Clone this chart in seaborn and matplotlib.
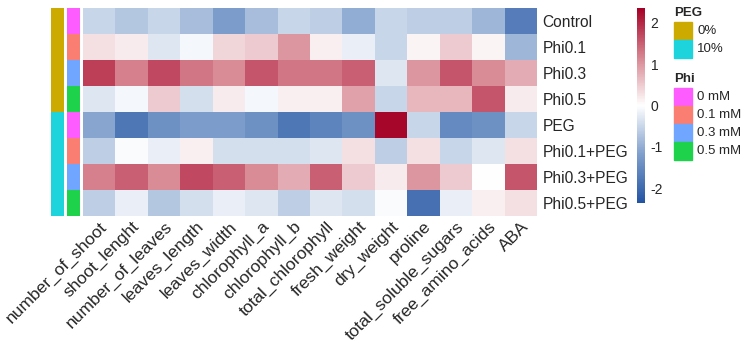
import numpy as np
import pandas as pd
import seaborn as sns
import matplotlib
matplotlib.use("Agg")
import matplotlib.pyplot as plt
from matplotlib.colors import LinearSegmentedColormap, ListedColormap
from matplotlib.patches import Rectangle

sns.set_style("white")
plt.rcParams['font.family'] = ['Liberation Sans', 'DejaVu Sans']
plt.rcParams['axes.unicode_minus'] = False

rows = ["Control", "Phi0.1", "Phi0.3", "Phi0.5", "PEG", "Phi0.1+PEG", "Phi0.3+PEG", "Phi0.5+PEG"]
cols = ["number_of_shoot", "shoot_lenght", "number_of_leaves", "leaves_length", "leaves_width",
        "chlorophyll_a", "chlorophyll_b", "total_chlorophyll", "fresh_weight", "dry_weight",
        "proline", "total_soluble_sugars", "free_amino_acids", "ABA"]

control     = [-0.5, -0.7, -0.5, -0.8, -1.2, -0.8, -0.5, -0.6, -1.0, -0.5, -0.6, -0.6, -0.9, -1.7]
phi01       = [0.3, 0.2, -0.3, -0.1, 0.4, 0.5, 1.0, 0.15, -0.2, -0.5, 0.1, 0.5, 0.1, -0.9]
phi03       = [1.8, 1.2, 1.7, 1.3, 1.1, 1.6, 1.3, 1.3, 1.5, -0.3, 1.0, 1.6, 1.1, 0.8]
phi05       = [-0.3, -0.1, 0.5, -0.4, 0.2, -0.1, 0.15, 0.15, 0.9, -0.5, 0.7, 0.7, 1.6, 0.2]
peg         = [-1.1, -1.8, -1.4, -1.2, -1.2, -1.4, -1.8, -1.6, -1.4, 2.3, -0.5, -1.5, -1.4, -0.5]
phi01_peg   = [-0.6, -0.05, -0.2, 0.15, -0.4, -0.4, -0.4, -0.3, 0.3, -0.6, 0.3, -0.5, -0.3, 0.3]
phi03_peg   = [1.2, 1.5, 1.1, 1.7, 1.5, 1.1, 0.8, 1.5, 0.5, 0.2, 1.0, 0.5, 0.0, 1.6]
phi05_peg   = [-0.6, -0.2, -0.7, -0.4, -0.2, -0.3, -0.6, -0.3, -0.4, -0.05, -1.9, -0.2, 0.15, 0.3]

peg_levels = ["0%", "10%"]
peg_colors = ["#CCAA00", "#1DD3DC"]
phi_levels = ["0 mM", "0.1 mM", "0.3 mM", "0.5 mM"]
phi_colors = ["#FF5CFF", "#FA7F72", "#70A6FF", "#1ED24C"]
peg_annot = [0, 0, 0, 0, 1, 1, 1, 1]
phi_annot = [0, 1, 2, 3, 0, 1, 2, 3]

data = pd.DataFrame([control, phi01, phi03, phi05, peg, phi01_peg, phi03_peg, phi05_peg],
                    index=rows, columns=cols)

W, H = 744, 348
fig = plt.figure(figsize=(W / 100, H / 100), dpi=100)

def fax(x0, y0, x1, y1):
    return fig.add_axes([x0 / W, 1 - y1 / H, (x1 - x0) / W, (y1 - y0) / H])

cmap = LinearSegmentedColormap.from_list("rb", ["#2354A3", "#7F9FCC", "#FFFFFF", "#D6848F", "#A50026"])

ax = fax(83, 8, 537, 216)
cax = fax(637, 8, 645, 203)
sns.heatmap(data, ax=ax, cmap=cmap, vmin=-2.36, vmax=2.36, cbar_ax=cax,
            linewidths=0, square=False)
ax.yaxis.tick_right()
ax.set_yticklabels(rows, rotation=0, fontsize=11.2)
ax.set_xticklabels(cols, rotation=45, ha="right", rotation_mode="anchor", fontsize=12.5)
ax.tick_params(axis="y", length=0, pad=4)
ax.tick_params(axis="x", length=0, pad=2)
ax.set_xlabel("")
ax.set_ylabel("")
cax.set_yticks([-2, -1, 0, 1, 2])
cax.tick_params(labelsize=10, length=0, pad=4)
for s in cax.spines.values():
    s.set_visible(False)

ax_peg = fax(51, 8, 64, 216)
sns.heatmap(pd.DataFrame({"PEG": peg_annot}), ax=ax_peg, cmap=ListedColormap(peg_colors),
            vmin=-0.5, vmax=1.5, cbar=False, linewidths=0)
ax_phi = fax(67, 8, 80, 216)
sns.heatmap(pd.DataFrame({"Phi": phi_annot}), ax=ax_phi, cmap=ListedColormap(phi_colors),
            vmin=-0.5, vmax=3.5, cbar=False, linewidths=0)
for a in (ax_peg, ax_phi):
    a.set_yticks([])
    a.set_ylabel("")
    a.tick_params(length=0, pad=2)
    a.set_xticklabels(a.get_xticklabels(), rotation=45, ha="right", rotation_mode="anchor",
                      fontsize=8, fontweight="bold")

# legends
def legend_block(title, levels, colors, top):
    fig.text(674 / W, 1 - top / H, title, fontsize=9.5, fontweight="bold", va="center", ha="left")
    for i, (lab, c) in enumerate(zip(levels, colors)):
        y0 = top + 9 + i * 18
        fig.patches.append(Rectangle((674 / W, 1 - (y0 + 18) / H), 18 / W, 18 / H,
                                     transform=fig.transFigure, color=c))
        fig.text(697 / W, 1 - (y0 + 9) / H, lab, fontsize=9.5, va="center", ha="left")

legend_block("PEG", peg_levels, peg_colors, 13)
legend_block("Phi", phi_levels, phi_colors, 79)

fig.savefig("out.png", dpi=100)
